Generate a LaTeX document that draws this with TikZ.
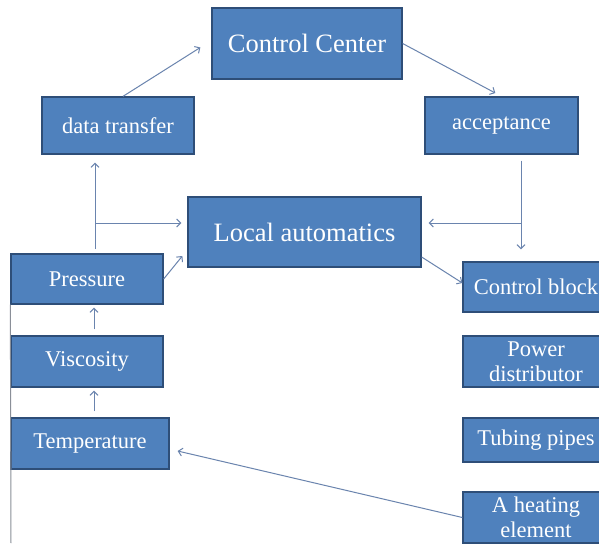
\documentclass[tikz,border=0pt]{standalone}
\usepackage{fontspec}
\setmainfont{Liberation Serif}
\usetikzlibrary{arrows.meta,calc}
\definecolor{boxfill}{HTML}{4F81BD}
\definecolor{boxline}{HTML}{2E4E78}
\definecolor{arrcol}{HTML}{6A84AE}
\definecolor{framecol}{HTML}{8A8F98}
\tikzset{
  blk/.style={rectangle, fill=boxfill, draw=boxline, line width=1.3pt, text=white,
    align=center, inner sep=0pt, font=\fontsize{22.5}{25}\selectfont},
  bigblk/.style={blk, font=\fontsize{26.5}{29}\selectfont},
  arr/.style={draw=arrcol, line width=1pt, -{Straight Barb[length=4pt,width=8pt]}},
  ln/.style={draw=arrcol, line width=1pt},
}
\begin{document}
\begin{tikzpicture}[x=1pt,y=-1pt]
\useasboundingbox (0,0) rectangle (599,543);
\clip (0,0) rectangle (599,543);
\fill[white] (0,0) rectangle (599,543);
% nodes
\node[bigblk, minimum width=190pt, minimum height=71pt] (cc) at (307,43.5) {Control Center};
\node[blk, minimum width=152pt, minimum height=57pt] (dt) at (118,125.5) {data transfer};
\node[blk, minimum width=153pt, minimum height=57pt] (acc) at (501.5,125.5) {acceptance};
\node[bigblk, minimum width=233pt, minimum height=70pt] (la) at (304.5,232) {Local automatics};
\node[blk, minimum width=152pt, minimum height=50pt] (pr) at (87,279) {Pressure};
\node[blk, minimum width=152pt, minimum height=51pt] (vi) at (87,361.5) {Viscosity};
\node[blk, minimum width=158pt, minimum height=51pt] (te) at (90,443.5) {Temperature};
\node[blk, minimum width=146pt, minimum height=50pt] (cb) at (536,287) {Control block};
\node[blk, minimum width=146pt, minimum height=51pt] (pd) at (536,361.5) {Power\\distributor};
\node[blk, minimum width=146pt, minimum height=44pt] (tp) at (536,440) {Tubing pipes};
\node[blk, minimum width=146pt, minimum height=51pt] (he) at (536,517.5) {A heating\\element};
% helper coordinates
\coordinate (jr) at (521,223);
\coordinate (jl) at (95,223);
\coordinate (sl) at (95,249);
\coordinate (bl) at (11,543);
% connectors
\draw[arr, shorten >=13pt] ($(dt.north)+(5,0)$) -- ($(cc.west)+(0,-3)$);
\draw[arr, shorten >=7pt] (cc.east) -- (acc.north);
\draw[ln] ($(acc.south)+(19.5,6)$) -- (jr);
\draw[arr, shorten >=12pt] (jr) -- ($(cb.north)+(-15,0)$);
\draw[arr, shorten >=7pt] (jr) -- (jr -| la.east);
\draw[arr, shorten >=8pt] (sl) -- (sl |- dt.south);
\draw[arr, shorten >=6pt] (jl) -- (jl -| la.west);
\draw[arr] (pr.east) -- ($(la.west)+(-5,24)$);
\draw[arr] ($(la.east)+(0,25)$) -- ($(cb.west)+(0,-4)$);
\draw[arr] ($(vi.north)+(7,-6)$) -- ($(pr.south)+(7,3)$);
\draw[arr] ($(te.north)+(4,-6)$) -- ($(vi.south)+(7,3)$);
\draw[arr] (he.west) -- ($(te.east)+(8,7.5)$);
\draw[draw=framecol, line width=1pt] (pr.south west) -- (bl);
\end{tikzpicture}
\end{document}
